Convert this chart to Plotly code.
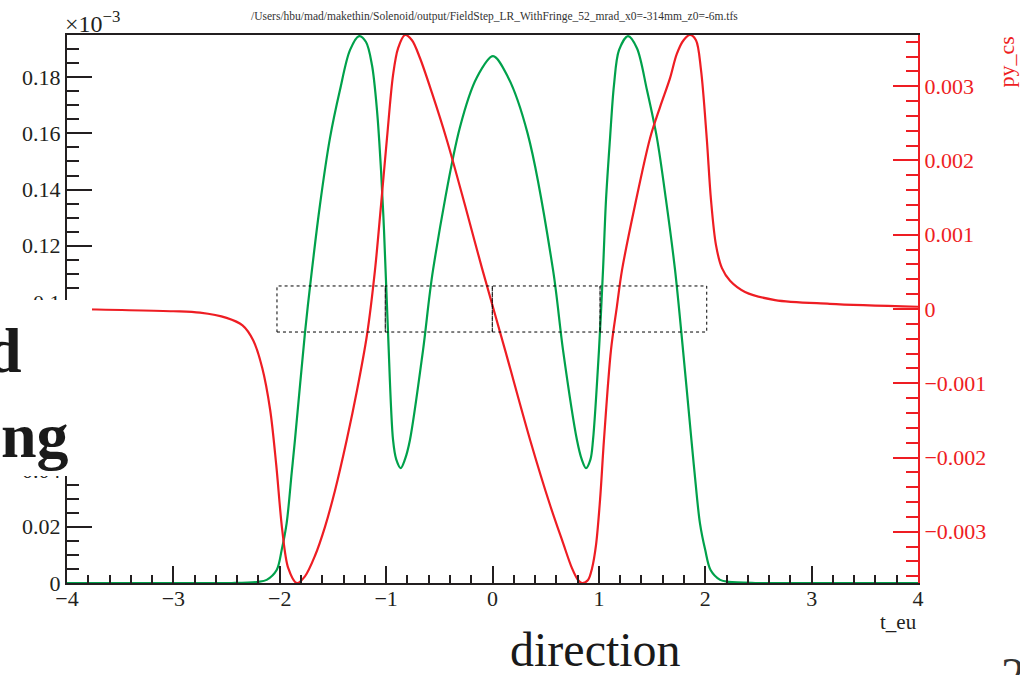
import plotly.graph_objects as go

# ---------------- data ----------------
green_t = [-4.0, -3.0, -2.6, -2.45, -2.2, -2.123, -2.029, -1.982, -1.935, -1.888, -1.857,
           -1.763, -1.716, -1.622, -1.528, -1.434, -1.34, -1.255, -1.189, -1.133, -1.086,
           -1.048, -1.02, -0.982, -0.935, -0.905, -0.863, -0.823, -0.776, -0.653, -0.559,
           -0.306, -0.146, 0.005, 0.146, 0.33, 0.569, 0.663, 0.794, 0.839, 0.879, 0.921,
           0.945, 1.001, 1.039, 1.067, 1.105, 1.142, 1.189, 1.274, 1.358, 1.452, 1.546,
           1.631, 1.716, 1.791, 1.87, 1.90, 1.95, 2.0, 2.05, 2.14, 2.22, 2.47, 3.0, 4.0]
green_v = [0.0, 0.0, 0.0, 0.0, 0.0004, 0.0011, 0.0046, 0.0117, 0.0213, 0.0391, 0.0509,
           0.0890, 0.1053, 0.1345, 0.1583, 0.1754, 0.1896, 0.1946, 0.1925, 0.1843, 0.1683,
           0.1469, 0.1256, 0.0890, 0.0509, 0.0440, 0.0409, 0.0440, 0.0509, 0.0829, 0.1114,
           0.1622, 0.1800, 0.1875, 0.1800, 0.1600, 0.1114, 0.0829, 0.0509, 0.0440, 0.0409,
           0.0440, 0.0509, 0.0829, 0.1114, 0.1363, 0.1583, 0.1772, 0.1896, 0.1946, 0.1903,
           0.1754, 0.1583, 0.1363, 0.1114, 0.0829, 0.0509, 0.0391, 0.0213, 0.0117, 0.0046,
           0.0011, 0.0004, 0.0, 0.0, 0.0]

red_t = [-4.0, -3.0, -2.75, -2.5, -2.35, -2.25, -2.165, -2.09, -2.033, -1.977, -1.92, -1.84,
         -1.763, -1.668, -1.574, -1.480, -1.370, -1.273, -1.180, -1.105, -1.048, -0.992,
         -0.935, -0.888, -0.823, -0.757, -0.682, -0.569, -0.428, -0.259, -0.099, 0.118,
         0.353, 0.541, 0.663, 0.747, 0.804, 0.842, 0.898, 0.936, 0.973, 1.011, 1.048, 1.114,
         1.170, 1.217, 1.340, 1.481, 1.575, 1.669, 1.731, 1.796, 1.857, 1.913, 1.960, 2.014,
         2.054, 2.101, 2.157, 2.233, 2.374, 2.656, 3.17, 4.0]
red_v = [0.0, -0.00003, -0.00005, -0.00012, -0.00022, -0.00042, -0.00079, -0.00136, -0.00210,
         -0.00297, -0.00349, -0.00369, -0.00360, -0.00332, -0.00293, -0.00244, -0.00176,
         -0.00109, -0.00035, 0.00052, 0.00140, 0.00230, 0.00315, 0.00351, 0.00369, 0.00362,
         0.00338, 0.00291, 0.00227, 0.00140, 0.00055, -0.00055, -0.00176, -0.00264, -0.00315,
         -0.00349, -0.00365, -0.00369, -0.00365, -0.00349, -0.00318, -0.00257, -0.00176,
         -0.00055, 0.00004, 0.00052, 0.00140, 0.00230, 0.00272, 0.00311, 0.00343, 0.00362,
         0.00369, 0.00362, 0.00322, 0.00230, 0.00147, 0.00086, 0.00055, 0.00038, 0.00023,
         0.00012, 0.00007, 0.00003]

x_ticks = [-4, -3, -2, -1, 0, 1, 2, 3, 4]
x_ticktext = ["\u22124", "\u22123", "\u22122", "\u22121", "0", "1", "2", "3", "4"]
y_ticks = [0, 0.02, 0.04, 0.06, 0.08, 0.1, 0.12, 0.14, 0.16, 0.18]
y_ticktext = ["0", "0.02", "0.04", "0.06", "0.08", "0.1", "0.12", "0.14", "0.16", "0.18"]
y2_ticks = [-0.003, -0.002, -0.001, 0, 0.001, 0.002, 0.003]
y2_ticktext = ["\u22120.003", "\u22120.002", "\u22120.001", "0", "0.001", "0.002", "0.003"]
box_edges = [-2.026, -1.008, -0.002, 1.011, 2.014]

title_text = "/Users/hbu/mad/makethin/Solenoid/output/FieldStep_LR_WithFringe_52_mrad_x0=-314mm_z0=-6m.tfs"

# ---------------- geometry ----------------
W, H = 1020, 675
L, R, T, B = 67, 918, 35, 583


def px(x):
    return (x - L) / (R - L)


def py(y):
    return (B - y) / (B - T)


RED = "#ee1d23"
GREEN = "#00a14b"
INK = "#231f20"
FONT = "Liberation Serif"

fig = go.Figure()
fig.add_trace(go.Scatter(x=green_t, y=green_v, mode="lines", yaxis="y",
                         line=dict(color=GREEN, width=2.2, shape="spline", smoothing=0.9),
                         showlegend=False, hoverinfo="skip"))
fig.add_trace(go.Scatter(x=red_t, y=red_v, mode="lines", yaxis="y2",
                         line=dict(color=RED, width=2.2, shape="spline", smoothing=0.9),
                         showlegend=False, hoverinfo="skip"))

shapes = []
for i in range(len(box_edges) - 1):
    shapes.append(dict(type="rect", xref="x", yref="y2", x0=box_edges[i], x1=box_edges[i + 1],
                       y0=-0.00031, y1=0.00031, line=dict(color="black", width=1, dash="dot"),
                       fillcolor="rgba(0,0,0,0)", layer="above"))
# white overlay covering left part
shapes.append(dict(type="rect", xref="paper", yref="paper", x0=px(-5), x1=px(92),
                   y0=py(476), y1=py(300), fillcolor="white", line=dict(width=0), layer="above"))

annotations = [
    dict(text=title_text, xref="paper", yref="paper", x=px(494), y=py(16), showarrow=False,
         xanchor="center", yanchor="middle", font=dict(family=FONT, size=11.5, color="#333333")),
    dict(text="\u00d710<sup>\u22123</sup>", xref="paper", yref="paper", x=px(63), y=py(39),
         showarrow=False, xanchor="left", yanchor="bottom",
         font=dict(family=FONT, size=24, color=INK)),
    dict(text="t_eu", xref="paper", yref="paper", x=px(919), y=py(622), showarrow=False,
         xanchor="right", yanchor="middle", font=dict(family=FONT, size=21, color=INK)),
    dict(text="py_cs", xref="paper", yref="paper", x=px(1006), y=py(35), showarrow=False,
         xanchor="center", yanchor="top", textangle=-90,
         font=dict(family=FONT, size=22, color=RED)),
    dict(text="<b>d</b>", xref="paper", yref="paper", x=px(24), y=py(350), showarrow=False,
         xanchor="right", yanchor="middle", font=dict(family=FONT, size=64, color="#1a1a1a")),
    dict(text="<b>ng</b>", xref="paper", yref="paper", x=px(71), y=py(435), showarrow=False,
         xanchor="right", yanchor="middle", font=dict(family=FONT, size=64, color="#1a1a1a")),
    dict(text="direction", xref="paper", yref="paper", x=px(595), y=py(649), showarrow=False,
         xanchor="center", yanchor="middle", font=dict(family=FONT, size=48, color="#1a1a1a")),
    dict(text="2", xref="paper", yref="paper", x=px(1013), y=py(674), showarrow=False,
         xanchor="center", yanchor="middle", font=dict(family=FONT, size=48, color="#333333")),
]

fig.update_layout(
    width=W, height=H, autosize=False,
    margin=dict(l=L, r=W - R, t=T, b=H - B, pad=0),
    paper_bgcolor="white", plot_bgcolor="white",
    showlegend=False,
    xaxis=dict(range=[-4, 4], showgrid=False, zeroline=False, showline=True, linecolor=INK,
               linewidth=2, mirror=True, ticks="inside", ticklen=17, tickwidth=1.5,
               tickcolor=INK, tickvals=x_ticks, ticktext=x_ticktext, ticklabelstandoff=-5,
               tickfont=dict(family=FONT, size=22, color=INK),
               minor=dict(ticks="inside", ticklen=8, tickwidth=1.5, tickcolor=INK,
                          dtick=0.2, tick0=-4, showgrid=False)),
    yaxis=dict(range=[0, 0.195], showgrid=False, zeroline=False, showline=True, linecolor=INK,
               linewidth=2, ticks="inside", ticklen=25, tickwidth=1.5, tickcolor=INK,
               tickvals=y_ticks, ticktext=y_ticktext,
               tickfont=dict(family=FONT, size=22, color=INK),
               minor=dict(ticks="inside", ticklen=12, tickwidth=1.5, tickcolor=INK,
                          dtick=0.005, tick0=0, showgrid=False)),
    yaxis2=dict(range=[-0.00369, 0.00369], overlaying="y", side="right", showgrid=False,
                zeroline=False, showline=True, linecolor=RED, linewidth=2, ticks="inside",
                ticklen=25, tickwidth=1.5, tickcolor=RED, tickvals=y2_ticks,
                ticktext=y2_ticktext, tickfont=dict(family=FONT, size=22, color=RED),
                minor=dict(ticks="inside", ticklen=12, tickwidth=1.5, tickcolor=RED,
                           dtick=0.0002, tick0=0, showgrid=False)),
    shapes=shapes,
    annotations=annotations,
)

fig.write_html("out.html")
